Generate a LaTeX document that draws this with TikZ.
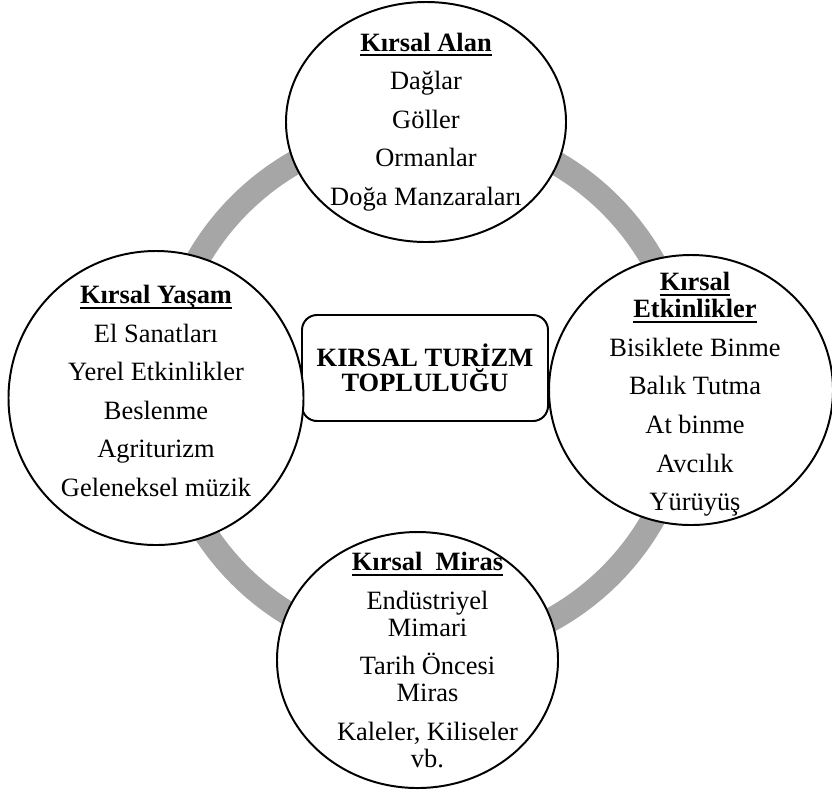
\documentclass[tikz,border=0pt]{standalone}
\usepackage{fontspec}
\setmainfont{Liberation Serif}
\usetikzlibrary{shapes.geometric}

\definecolor{ringgray}{HTML}{A6A6A6}
\newcommand{\baslik}[1]{\sbox0{\textbf{#1}}\rlap{\rule[-3.5pt]{\wd0}{1.3pt}}\usebox0}
\newcommand{\sonraki}{\\[8.2pt]}

\begin{document}
\begin{tikzpicture}[x=0.25mm, y=-0.25mm,
        bubble/.style={ellipse, draw, line width=1.4pt, fill=white, inner sep=0pt},
        items/.style={align=center, font=\fontsize{18.8}{19.2}\selectfont},
        hub/.style={rectangle, rounded corners=3.75mm, draw, line width=1.4pt, fill=white,
                    align=center, font=\fontsize{18.8}{17.8}\selectfont\bfseries}]
        \useasboundingbox (0,0) rectangle (832,793);
        \coordinate (c) at (425,390);
        \draw[ringgray, line width=6mm] (c) circle[radius=65.5mm];
        \node[hub, minimum width=61.5mm, minimum height=26.5mm] (merkez) at (425,368) {KIRSAL TURİZM\\TOPLULUĞU};
        \node[bubble, minimum width=70mm, minimum height=60mm,
              label={[items]center:{\baslik{Kırsal Alan}\sonraki Dağlar\sonraki Göller\sonraki Ormanlar\sonraki Doğa Manzaraları}}] (alan) at (426,122) {};
        \node[bubble, minimum width=73.75mm, minimum height=73.5mm,
              label={[items, yshift=1.75mm]center:{\baslik{Kırsal Yaşam}\sonraki El Sanatları\sonraki Yerel Etkinlikler\sonraki Beslenme\sonraki Agriturizm\sonraki Geleneksel müzik}}] (yasam) at (156,398) {};
        \node[bubble, minimum width=71mm, minimum height=67.5mm,
              label={[items, xshift=1mm, yshift=-1.1mm]center:{\baslik{Kırsal}\\\baslik{Etkinlikler}\sonraki Bisiklete Binme\sonraki Balık Tutma\sonraki At binme\sonraki Avcılık\sonraki Yürüyüş}}] (etkinlik) at (691,390) {};
        \node[bubble, minimum width=70.25mm, minimum height=64mm,
              label={[items, xshift=2.5mm]center:{\baslik{Kırsal\ \ Miras}\sonraki Endüstriyel\\Mimari\sonraki Tarih Öncesi\\Miras\sonraki Kaleler, Kiliseler\\vb.}}] (miras) at (417.5,660) {};
\end{tikzpicture}
\end{document}
